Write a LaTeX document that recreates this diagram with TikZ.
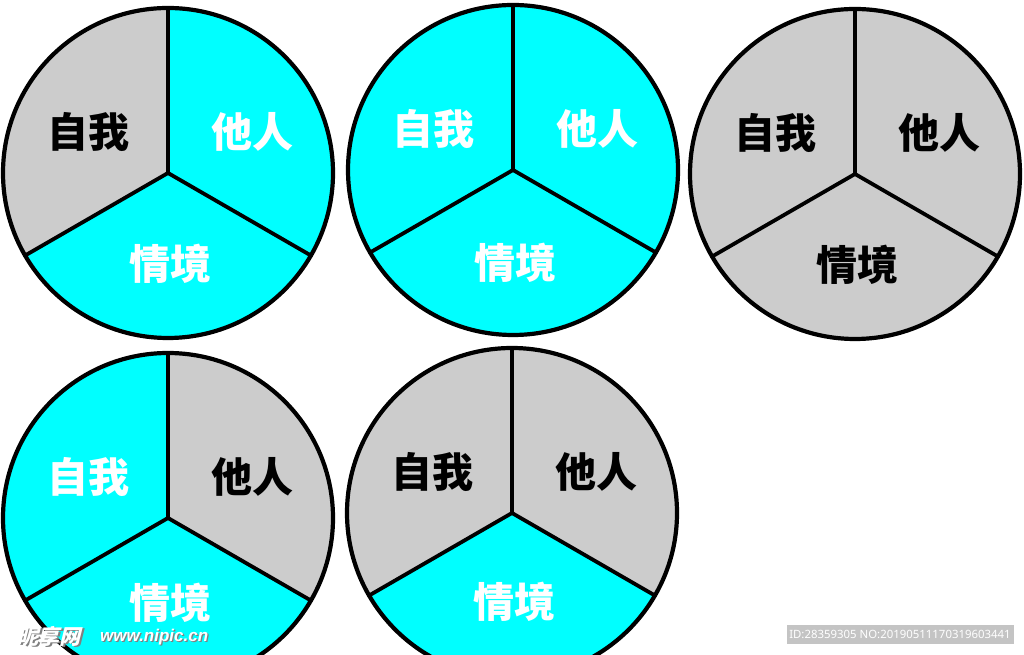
\documentclass[tikz,border=0pt]{standalone}
\usepackage{fontspec}
\newfontfamily\cjk{Noto Sans CJK SC}
\newfontfamily\cjkslant{Noto Sans CJK SC}[FakeSlant=0.25]
\newfontfamily\wmfont{Liberation Sans}
\newfontfamily\idfont{Noto Sans}
\definecolor{pgrey}{HTML}{CCCCCC}
\definecolor{pcyan}{HTML}{00FFFF}
\definecolor{idgrey}{HTML}{C4C4C4}
\tikzset{
  outline/.style={draw=black,line width=4.2pt},
  spoke/.style={draw=black,line width=3.8pt,line cap=round},
  lab/.style={font=\cjk\bfseries\fontsize{41}{41}\selectfont,inner sep=0pt},
  wmark/.style={inner sep=0pt,text=white},
}
% #1 name, #2 center, #3/#4 fill/text self, #5/#6 other, #7/#8 situation, #9 situation offset
\newcommand\threepie[9]{%
  \coordinate (#1) at #2;
  \fill[#3] (#1) -- ++(90:165) arc[start angle=90,end angle=210,radius=165] -- cycle;
  \fill[#5] (#1) -- ++(-30:165) arc[start angle=-30,end angle=90,radius=165] -- cycle;
  \fill[#7] (#1) -- ++(210:165) arc[start angle=210,end angle=330,radius=165] -- cycle;
  \draw[spoke] (#1) -- ++(90:165);
  \draw[spoke] (#1) -- ++(210:165);
  \draw[spoke] (#1) -- ++(330:165);
  \draw[outline] (#1) circle[radius=165];
  \node[lab,text=#4] (#1-self) at ($(#1)+(-80,41)$) {自我};
  \node[lab,text=#6] (#1-other) at ($(#1)+(84,41)$) {他人};
  \node[lab,text=#8] (#1-sit) at ($(#1)+(2,#9)$) {情境};
}
\usetikzlibrary{calc}
\begin{document}
\begin{tikzpicture}[x=1pt,y=1pt]
\useasboundingbox (0,0) rectangle (1024,655);
\clip (0,0) rectangle (1024,655);
\fill[white] (0,0) rectangle (1024,655);
\threepie{p1}{(168,482)}{pgrey}{black}{pcyan}{white}{pcyan}{white}{-91}
\threepie{p2}{(513,485)}{pcyan}{white}{pcyan}{white}{pcyan}{white}{-93}
\threepie{p3}{(855,481)}{pgrey}{black}{pgrey}{black}{pgrey}{black}{-91}
\threepie{p4}{(168,137)}{pcyan}{white}{pgrey}{black}{pcyan}{white}{-85}
\threepie{p5}{(512,142)}{pgrey}{black}{pgrey}{black}{pcyan}{white}{-89}
% watermark
\node[inner sep=0pt,text=gray,anchor=west] at (18.8,17.2) {\cjkslant\bfseries\fontsize{21}{21}\selectfont 昵享网};
\node[wmark,anchor=west] (wm1) at (17.5,18.5) {\cjkslant\bfseries\fontsize{21}{21}\selectfont 昵享网};
\node[inner sep=0pt,text=gray,anchor=west] at (101.2,16.8) {\wmfont\bfseries\itshape\fontsize{17}{17}\selectfont www.nipic.cn};
\node[wmark,anchor=west] (wm2) at (100,18) {\wmfont\bfseries\itshape\fontsize{17}{17}\selectfont www.nipic.cn};
\node[fill=idgrey,minimum width=227,minimum height=19.5,inner sep=0pt,text=white] (id) at (900,20.5) {\idfont\fontsize{11.4}{13}\selectfont ID:28359305 NO:20190511170319603441};
\end{tikzpicture}
\end{document}
